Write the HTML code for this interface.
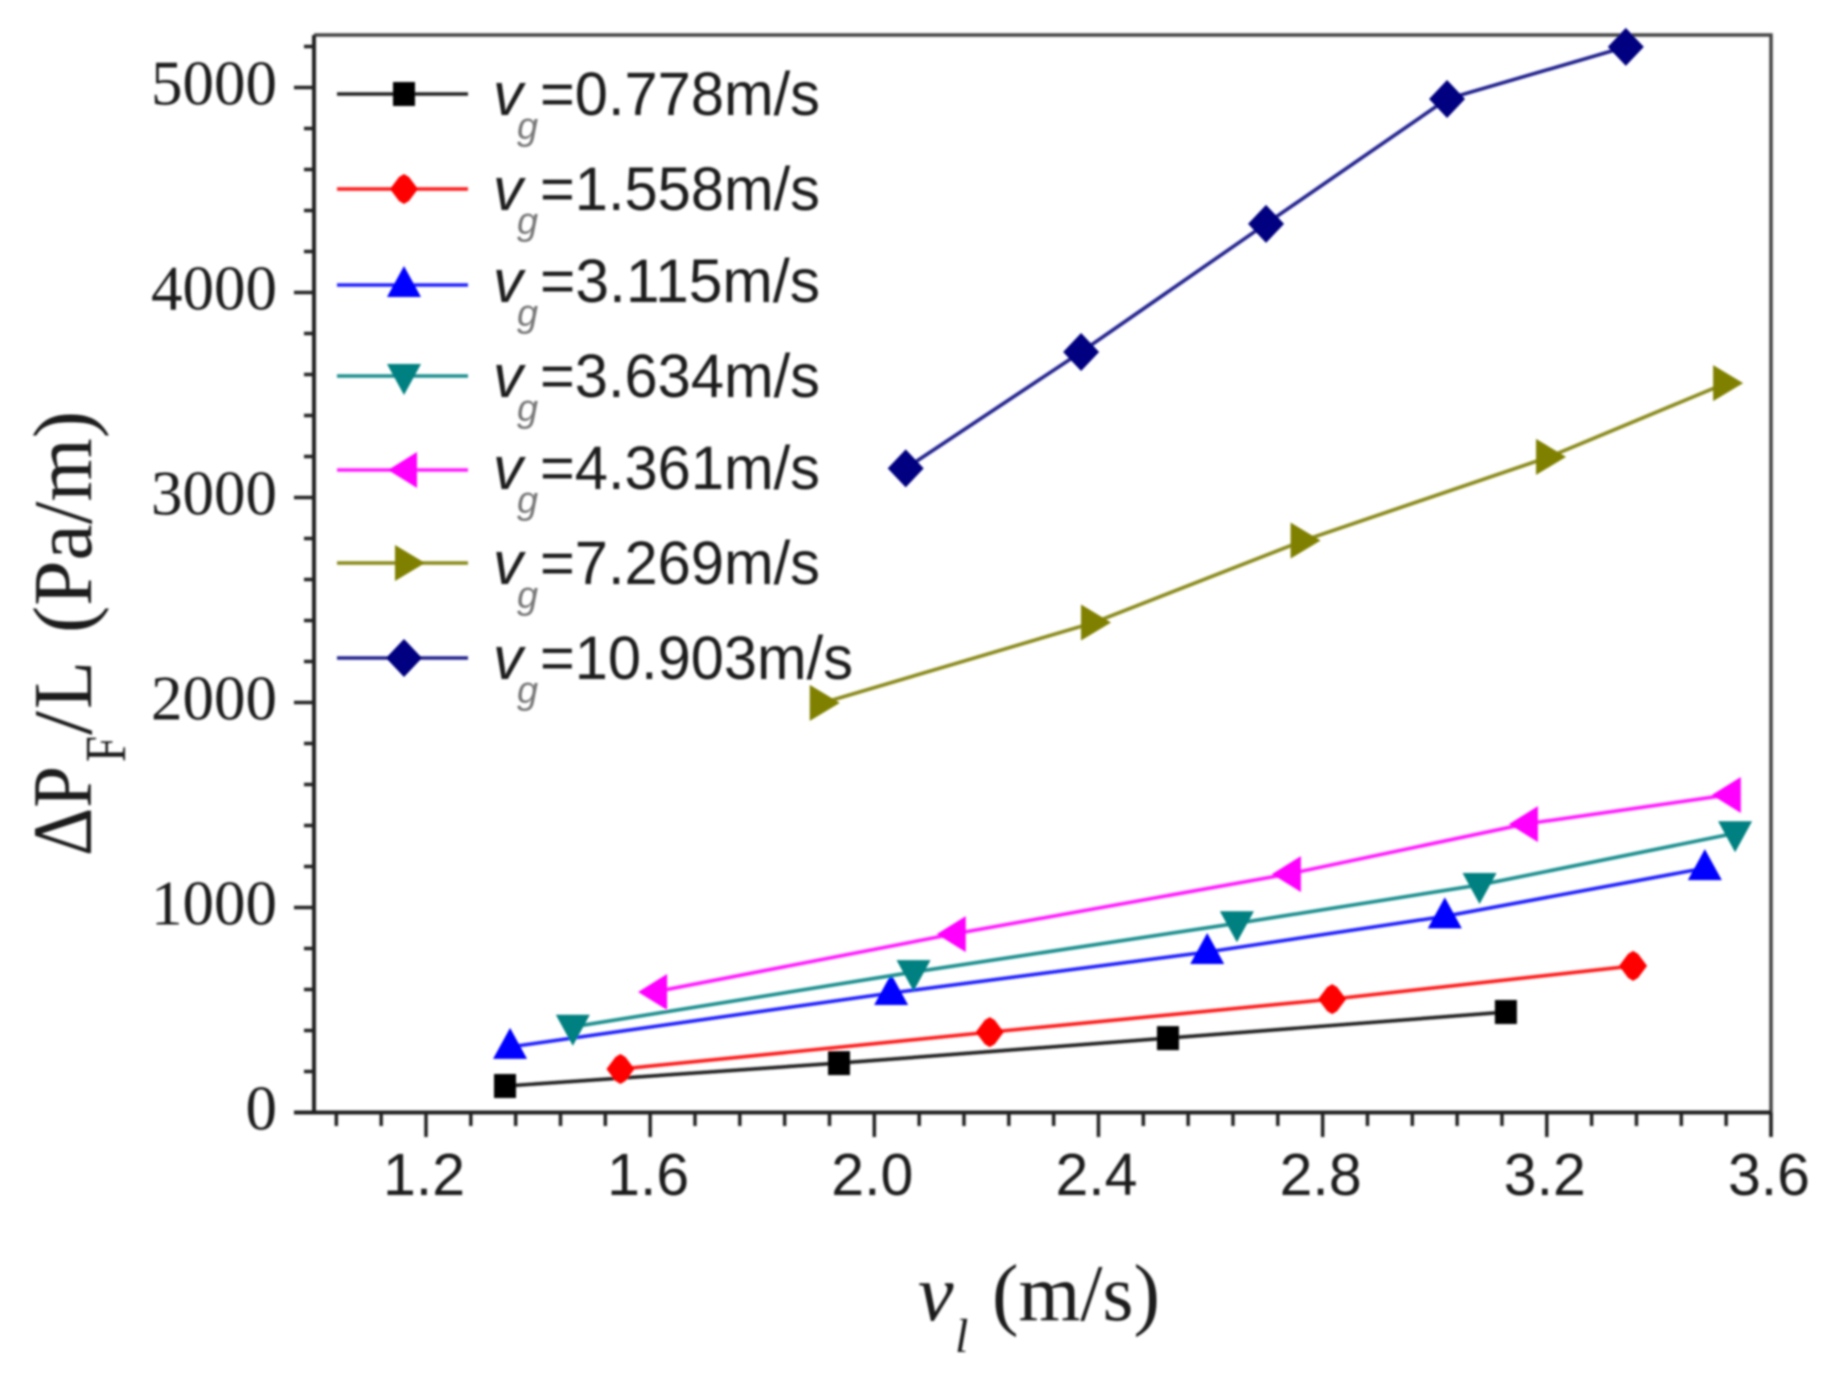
<!DOCTYPE html>
<html lang="en">
<head>
<meta charset="utf-8">
<title>Frictional pressure gradient chart</title>
<style>
html,body{margin:0;padding:0;background:#fff;width:1836px;height:1378px;overflow:hidden}
svg{display:block}
.serif{font-family:"Liberation Serif",serif}
.sans{font-family:"Liberation Sans",sans-serif}
</style>
</head>
<body>
<svg id="chart" xmlns="http://www.w3.org/2000/svg" width="1836" height="1378" viewBox="0 0 1836 1378">
  <defs>
    <filter id="soft" x="-2%" y="-2%" width="104%" height="104%"><feGaussianBlur stdDeviation="1"/></filter>
  </defs>
  <g filter="url(#soft)">
    <g id="axes"></g>
    <g id="series"></g>
    <g id="legend-marks"></g>

    <g fill="#1a1a1a" font-family="'Liberation Sans',sans-serif">
      <g><text x="493" y="115" font-size="60" font-style="italic">v</text><text x="517" y="139" font-size="38" font-style="italic" fill="#777">g</text><text x="540" y="115" font-size="61" textLength="280" lengthAdjust="spacingAndGlyphs">=0.778m/s</text></g>
      <g><text x="493" y="210" font-size="60" font-style="italic">v</text><text x="517" y="234" font-size="38" font-style="italic" fill="#777">g</text><text x="540" y="210" font-size="61" textLength="280" lengthAdjust="spacingAndGlyphs">=1.558m/s</text></g>
      <g><text x="493" y="302" font-size="60" font-style="italic">v</text><text x="517" y="326" font-size="38" font-style="italic" fill="#777">g</text><text x="540" y="302" font-size="61" textLength="280" lengthAdjust="spacingAndGlyphs">=3.115m/s</text></g>
      <g><text x="493" y="397" font-size="60" font-style="italic">v</text><text x="517" y="421" font-size="38" font-style="italic" fill="#777">g</text><text x="540" y="397" font-size="61" textLength="280" lengthAdjust="spacingAndGlyphs">=3.634m/s</text></g>
      <g><text x="493" y="489" font-size="60" font-style="italic">v</text><text x="517" y="513" font-size="38" font-style="italic" fill="#777">g</text><text x="540" y="489" font-size="61" textLength="280" lengthAdjust="spacingAndGlyphs">=4.361m/s</text></g>
      <g><text x="493" y="584" font-size="60" font-style="italic">v</text><text x="517" y="608" font-size="38" font-style="italic" fill="#777">g</text><text x="540" y="584" font-size="61" textLength="280" lengthAdjust="spacingAndGlyphs">=7.269m/s</text></g>
      <g><text x="493" y="679" font-size="60" font-style="italic">v</text><text x="517" y="703" font-size="38" font-style="italic" fill="#777">g</text><text x="540" y="679" font-size="61" textLength="313" lengthAdjust="spacingAndGlyphs">=10.903m/s</text></g>
    </g>

    <g class="serif" fill="#1a1a1a">
      <text transform="translate(91,856) rotate(-90)" font-size="85" textLength="90" lengthAdjust="spacingAndGlyphs">ΔP</text>
      <text transform="translate(125,762) rotate(-90)" font-size="58" textLength="26" lengthAdjust="spacingAndGlyphs">F</text>
      <text transform="translate(91,735) rotate(-90)" font-size="84" textLength="24" lengthAdjust="spacingAndGlyphs">/</text>
      <text transform="translate(91,709) rotate(-90)" font-size="84" textLength="48" lengthAdjust="spacingAndGlyphs">L</text>
      <text transform="translate(91,633) rotate(-90)" font-size="84" textLength="222" lengthAdjust="spacingAndGlyphs">(Pa/m)</text>
    </g>
    <g class="serif" fill="#1a1a1a">
      <text x="918" y="1320" font-size="80" font-style="italic">v</text>
      <text x="955" y="1352" font-size="48" font-style="italic">l</text>
      <text x="992" y="1320" font-size="80" textLength="168" lengthAdjust="spacingAndGlyphs">(m/s)</text>
    </g>
  </g>
</svg>
<script>
// Chart data
const yMajorTicks = [0, 1000, 2000, 3000, 4000, 5000];
const xMajorTicks = [1.2, 1.6, 2.0, 2.4, 2.8, 3.2, 3.6];
const xTickLabels = ['1.2', '1.6', '2.0', '2.4', '2.8', '3.2', '3.6'];

const vl0778 = [1.341, 1.937, 2.524, 3.127];
const dp0778 = [129, 241, 363, 490];
const vl1558 = [1.547, 2.206, 2.817, 3.354];
const dp1558 = [212, 392, 553, 715];
const vl3115 = [1.35, 2.03, 2.594, 3.018, 3.482];
const dp3115 = [320, 583, 783, 957, 1192];
const vl3634 = [1.462, 2.07, 2.647, 3.08, 3.536];
const dp3634 = [418, 685, 923, 1110, 1362];
const vl4361 = [1.607, 2.14, 2.738, 3.161, 3.523];
const dp4361 = [588, 870, 1163, 1407, 1549];
const vl7269 = [1.908, 2.392, 2.766, 3.204, 3.52];
const dp7269 = [1998, 2390, 2790, 3198, 3558];
const vl10903 = [2.056, 2.369, 2.699, 3.022, 3.341];
const dp10903 = [3142, 3710, 4335, 4944, 5198];

// Axis functions
function xScale(v) { return 426 + (v - 1.2) * 560.4; }
function yScale(p) { return 1112.5 - p * 0.205; }

const NS = 'http://www.w3.org/2000/svg';
function make(parent, tag, attrs) {
  const el = document.createElementNS(NS, tag);
  for (const k in attrs) el.setAttribute(k, attrs[k]);
  parent.appendChild(el);
  return el;
}

function markerPoints(kind, cx, cy) {
  const shapes = {
    square: [[-11, -12], [11, -12], [11, 12], [-11, 12]],
    diamond: [[0, -15], [5, -12], [14, 0], [5, 12], [0, 15], [-5, 12], [-14, 0], [-5, -12]],
    bigdiamond: [[0, -19], [18, 0], [0, 19], [-18, 0]],
    up: [[0, -19], [17, 12], [-17, 12]],
    down: [[-17, -12], [17, -12], [0, 19]],
    left: [[-16, 0], [13, -18], [13, 18]],
    right: [[-13, -18], [17, 0], [-13, 18]]
  };
  return shapes[kind].map(function (p) { return (cx + p[0]) + ',' + (cy + p[1]); }).join(' ');
}

const seriesList = [
  { id: '0778', xs: vl0778, ys: dp0778, line: '#222222', fill: '#000000', kind: 'square' },
  { id: '1558', xs: vl1558, ys: dp1558, line: '#ff1a1a', fill: '#ff0000', kind: 'diamond' },
  { id: '3115', xs: vl3115, ys: dp3115, line: '#2020ff', fill: '#0000ff', kind: 'up' },
  { id: '3634', xs: vl3634, ys: dp3634, line: '#1f8f8f', fill: '#008080', kind: 'down' },
  { id: '4361', xs: vl4361, ys: dp4361, line: '#ff1aff', fill: '#ff00ff', kind: 'left' },
  { id: '7269', xs: vl7269, ys: dp7269, line: '#8a8a1a', fill: '#808000', kind: 'right' },
  { id: '10903', xs: vl10903, ys: dp10903, line: '#20208f', fill: '#000080', kind: 'bigdiamond' }
];

// Axes
const axes = document.getElementById('axes');
const axisColor = '#222';
const frame = make(axes, 'path', { d: 'M314 35H1771V1137', fill: 'none', stroke: '#444', 'stroke-width': 3.5 });


const yAxis = make(axes, 'line', { x1: 314, y1: 35, x2: 314, y2: 1113, stroke: axisColor, 'stroke-width': 4 });


const xAxis = make(axes, 'line', { x1: 294, y1: yScale(0), x2: 1771, y2: yScale(0), stroke: axisColor, 'stroke-width': 4 });



for (let p = 200; p <= 5200; p += 200) {
  if (p % 1000 === 0) continue;
  const t = make(axes, 'line', { x1: 304, x2: 314, y1: yScale(p), y2: yScale(p), stroke: axisColor, 'stroke-width': 3.5 });
  
  
}
yMajorTicks.forEach(function (p) {
  const t = make(axes, 'line', { x1: 294, x2: 314, y1: yScale(p), y2: yScale(p), stroke: axisColor, 'stroke-width': 3.5 });
  
  
  const label = make(axes, 'text', { x: 277, y: yScale(p) + 17, 'text-anchor': 'end', 'font-size': 63, fill: '#1a1a1a', 'font-family': '"Liberation Serif",serif' });
  
  
  label.textContent = String(p);
});
for (let i = 0; i < 32; i++) {
  const v = 1.04 + i * 0.08;
  if (i % 5 === 2) continue;
  const t = make(axes, 'line', { x1: xScale(v), x2: xScale(v), y1: 1112.5, y2: 1126, stroke: axisColor, 'stroke-width': 3.5 });
  
  
}
xMajorTicks.forEach(function (v, i) {
  const t = make(axes, 'line', { x1: xScale(v), x2: xScale(v), y1: 1112.5, y2: 1137, stroke: axisColor, 'stroke-width': 3.5 });
  
  
  const label = make(axes, 'text', { x: xScale(v) - 2, y: 1195, 'text-anchor': 'middle', 'font-size': 59, fill: '#1a1a1a', 'font-family': '"Liberation Sans",sans-serif' });
  
  
  label.textContent = xTickLabels[i];
});

// Series
const seriesRoot = document.getElementById('series');
seriesList.forEach(function (s) {
  const pts = s.xs.map(function (x, i) { return xScale(x) + ',' + yScale(s.ys[i]); }).join(' ');
  const line = make(seriesRoot, 'polyline', { points: pts, fill: 'none', stroke: s.line, 'stroke-width': 3.6 });
  
  
  s.xs.forEach(function (x, i) {
    const m = make(seriesRoot, 'polygon', { points: markerPoints(s.kind, xScale(x), yScale(s.ys[i])), fill: s.fill });
    
    
  });
});

// Legend marks
const legendRoot = document.getElementById('legend-marks');
const legendRowsY = [94, 189, 285, 376, 470, 563, 658];
seriesList.forEach(function (s, i) {
  const y = legendRowsY[i];
  const l = make(legendRoot, 'line', { x1: 337, x2: 468, y1: y, y2: y, stroke: s.line, 'stroke-width': 3.6 });
  
  
  const mx = s.kind === 'right' ? 408 : 404;
  const m = make(legendRoot, 'polygon', { points: markerPoints(s.kind, mx, y), fill: s.fill });
  
  
});
</script>
</body>
</html>
